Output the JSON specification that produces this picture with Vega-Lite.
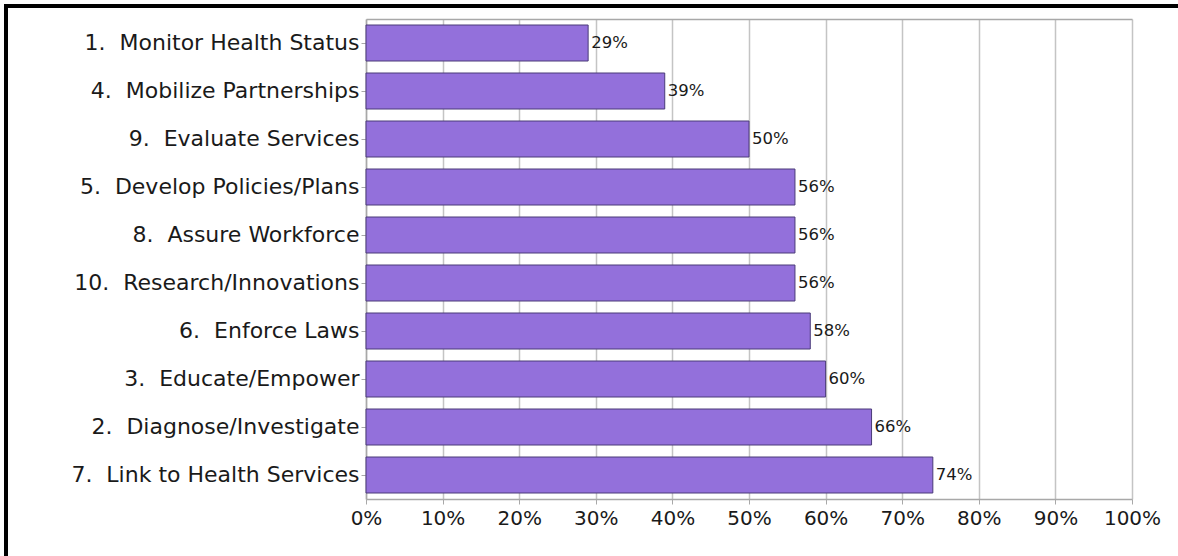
{
  "$schema": "https://vega.github.io/schema/vega-lite/v6.json",
  "autosize": {"type": "none"},
  "padding": {"left": 6, "top": 6, "right": -28, "bottom": -30},
  "width": 1200,
  "height": 580,
  "background": "white",
  "config": {
    "view": {"stroke": "#000000", "strokeWidth": 4, "fill": "white"},
    "font": "DejaVu Sans",
    "axis": {"labelColor": "#1a1a1a", "labelFont": "DejaVu Sans", "title": null}
  },
  "data": {
    "values": [
      {"task": "1.\u00a0 Monitor Health Status", "pct": 0.29},
      {"task": "4.\u00a0 Mobilize Partnerships", "pct": 0.39},
      {"task": "9.\u00a0 Evaluate Services", "pct": 0.50},
      {"task": "5.\u00a0 Develop Policies/Plans", "pct": 0.56},
      {"task": "8.\u00a0 Assure Workforce", "pct": 0.56},
      {"task": "10.\u00a0 Research/Innovations", "pct": 0.56},
      {"task": "6.\u00a0 Enforce Laws", "pct": 0.58},
      {"task": "3.\u00a0 Educate/Empower", "pct": 0.60},
      {"task": "2.\u00a0 Diagnose/Investigate", "pct": 0.66},
      {"task": "7.\u00a0 Link to Health Services", "pct": 0.74}
    ]
  },
  "encoding": {
    "y": {
      "field": "task",
      "type": "nominal",
      "sort": null,
      "scale": {"range": [13, 493], "paddingInner": 0.25, "paddingOuter": 0.125},
      "axis": {
        "orient": "left",
        "offset": -360,
        "domain": true,
        "domainColor": "#a8a8a8",
        "domainWidth": 1.5,
        "ticks": true,
        "tickColor": "#a8a8a8",
        "tickSize": 5,
        "labelFontSize": 22,
        "labelPadding": 2,
        "labelLimit": 400,
        "grid": false
      }
    }
  },
  "layer": [
    {
      "mark": {"type": "bar", "fill": "#9370DB", "stroke": "#4a3b78", "strokeWidth": 1},
      "encoding": {
        "x": {
          "field": "pct",
          "type": "quantitative",
          "scale": {"domain": [0, 1], "range": [360, 1126], "nice": false},
          "axis": {
            "orient": "top",
            "offset": -13,
            "values": [0, 0.1, 0.2, 0.3, 0.4, 0.5, 0.6, 0.7, 0.8, 0.9, 1],
            "labels": false,
            "ticks": false,
            "domain": true,
            "domainColor": "#a8a8a8",
            "domainWidth": 1.5,
            "grid": true,
            "gridColor": "#c4c4c4",
            "gridWidth": 1.5
          }
        }
      }
    },
    {
      "mark": {"type": "text", "align": "left", "baseline": "middle", "dx": 3, "fontSize": 16.5, "font": "DejaVu Sans", "color": "#1a1a1a"},
      "encoding": {
        "x": {
          "field": "pct",
          "type": "quantitative",
          "axis": {
            "orient": "bottom",
            "offset": -87,
            "values": [0, 0.1, 0.2, 0.3, 0.4, 0.5, 0.6, 0.7, 0.8, 0.9, 1],
            "format": ".0%",
            "domainColor": "#a8a8a8",
            "domainWidth": 1.5,
            "tickColor": "#a8a8a8",
            "tickSize": 5,
            "labelFontSize": 20,
            "labelPadding": 4,
            "labelFlush": false,
            "labelOverlap": false,
            "grid": false
          }
        },
        "text": {"field": "pct", "type": "quantitative", "format": ".0%"}
      }
    }
  ],
  "resolve": {"axis": {"x": "independent"}}
}
